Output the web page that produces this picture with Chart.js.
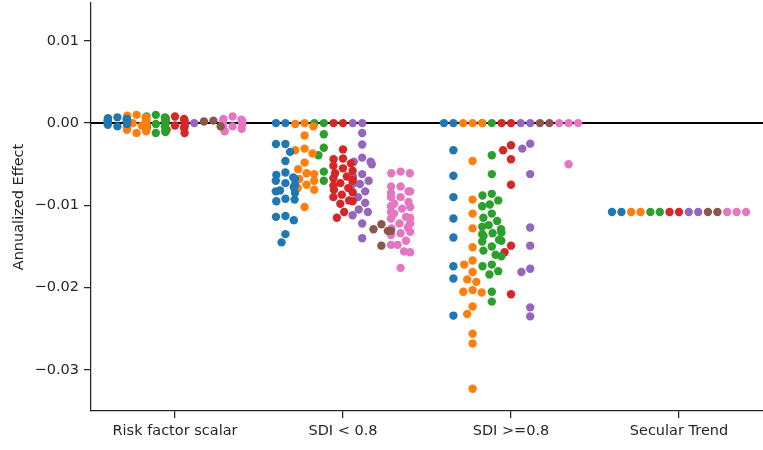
<!DOCTYPE html>
<html>
<head>
<meta charset="utf-8">
<script src="https://cdn.jsdelivr.net/npm/chart.js@4"></script>
<style>
body{margin:0;background:#fff;}
#wrap{width:763px;height:450px;}
</style>
</head>
<body>
<div id="wrap"><canvas id="chart" width="763" height="450"></canvas></div>
<script>
// ================= DATA =================
const categories = ["Risk factor scalar","SDI < 0.8","SDI >=0.8","Secular Trend"];

const yTicks = [0.01, 0, -0.01, -0.02, -0.03];
const yTickLabels = ["0.01","0.00","\u22120.01","\u22120.02","\u22120.03"];

// one list per hue, each holding the values for the 4 categories
const blue = [
[0.0007,0.0006,0.0005,0.00045,0.0004,0.0003,0.00025,0.0002,0.0001,0.00005,0,-0.0001,-0.0002,-0.0004],
[0,0,-0.00255,-0.00255,-0.0035,-0.0046,-0.006,-0.0063,-0.0066,-0.0068,-0.007,-0.0073,-0.0075,-0.0078,-0.0082,-0.0083,-0.0085,-0.0092,-0.0093,-0.0095,-0.0113,-0.0114,-0.0118,-0.0135,-0.0145],
[0,0,-0.0033,-0.0064,-0.009,-0.0116,-0.0139,-0.0174,-0.0189,-0.0234],
[-0.0108,-0.0108]
];
const orange = [
[0.001,0.0009,0.0007,0.0006,0.0005,0.0004,0.0003,0.0002,0.0001,0,-0.0001,-0.0002,-0.0003,-0.0005,-0.0006,-0.0008,-0.001,-0.0012],
[0,-0.0001,-0.0004,-0.0015,-0.0031,-0.0033,-0.0037,-0.0048,-0.0056,-0.0061,-0.0062,-0.0068,-0.0068,-0.007,-0.0075,-0.0077,-0.0079,-0.0081,-0.0102],
[0,0,0,-0.0046,-0.0093,-0.011,-0.0128,-0.0151,-0.0167,-0.0172,-0.0181,-0.019,-0.0193,-0.0203,-0.0205,-0.0206,-0.0223,-0.0232,-0.0256,-0.0268,-0.0323],
[-0.0108,-0.0108]
];
const green = [
[0.001,0.0008,0.0007,0.0005,0.0004,0.0003,0.0002,0.0001,0,-0.0001,-0.0002,-0.0004,-0.0005,-0.0007,-0.0009,-0.0011,-0.0012],
[0,0,-0.00135,-0.003,-0.0039,-0.0059,-0.007],
[0,0,-0.0039,-0.0062,-0.0086,-0.0088,-0.0094,-0.0099,-0.0101,-0.011,-0.0115,-0.0119,-0.0124,-0.0126,-0.0129,-0.0133,-0.0134,-0.0135,-0.0137,-0.0142,-0.0143,-0.0144,-0.015,-0.0155,-0.016,-0.0162,-0.0172,-0.0174,-0.018,-0.0184,-0.0205,-0.0217],
[-0.0108,-0.0108]
];
const red = [
[0.0008,0.0006,0.0005,0.0003,0.0002,0.0001,0,-0.0001,-0.0003,-0.0004,-0.0006,-0.0008,-0.0012],
[0,0,-0.0032,-0.0043,-0.0044,-0.0049,-0.0052,-0.0055,-0.0058,-0.0061,-0.0065,-0.0067,-0.0069,-0.007,-0.0073,-0.0076,-0.0079,-0.0081,-0.0084,-0.0087,-0.009,-0.0094,-0.0095,-0.0098,-0.0108,-0.0115],
[0,0,-0.0027,-0.0033,-0.0044,-0.0075,-0.0149,-0.0157,-0.0208],
[-0.0108,-0.0108]
];
const purple = [
[0,-0.0002],
[0,0,-0.0012,-0.0026,-0.0042,-0.0047,-0.0047,-0.005,-0.0062,-0.0065,-0.007,-0.0074,-0.0074,-0.0083,-0.009,-0.0097,-0.0105,-0.0108,-0.0112,-0.0122,-0.014],
[0,0,-0.0025,-0.0031,-0.0062,-0.0127,-0.0149,-0.0177,-0.0181,-0.0224,-0.0235],
[-0.0108,-0.0108]
];
const brown = [
[0.0003,0.0002,-0.0004],
[-0.0123,-0.0129,-0.0131,-0.0131,-0.0149],
[0,0],
[-0.0108,-0.0108]
];
const pink = [
[0.0008,0.0005,0.0004,0.0003,0.0002,0.0001,0,-0.0002,-0.0004,-0.0005,-0.0007,-0.001],
[-0.0059,-0.0061,-0.0061,-0.0077,-0.0077,-0.0083,-0.0083,-0.0085,-0.009,-0.009,-0.0096,-0.0098,-0.0101,-0.0102,-0.0104,-0.0108,-0.011,-0.0114,-0.0115,-0.0116,-0.0122,-0.0122,-0.0127,-0.0128,-0.0132,-0.0134,-0.0136,-0.0143,-0.0148,-0.0148,-0.0156,-0.0157,-0.0176],
[0,0,0,-0.005],
[-0.0108,-0.0108,-0.0108]
];

const hues = [blue, orange, green, red, purple, brown, pink];
const hueColors = ["#1f77b4","#ff7f0e","#2ca02c","#d62728","#9467bd","#8c564b","#e377c2"];

const TEXT = "#262626";
const FONT = "DejaVu Sans";
const DOT_R = 4.2;     // drawn radius (px)
const SWARM_R = 4.5;   // radius used for swarm collision (px)
const SPREAD = 0.8;    // width shared by all hues in one category


// ================= SWARM LAYOUT (seaborn style) =================
function swarm(vals, yScale, halfWidth){
let pts = vals.map((v,i)=>({i:i, y:yScale.getPixelForValue(v), x:0}));
pts.sort((a,b)=>a.y-b.y);

let placed = [];
pts.forEach(p=>{
if(!placed.length){ placed.push(p); return; }

let nb = [];
for(let k=placed.length-1;k>=0;k--){
if(p.y - placed[k].y < 2*SWARM_R) nb.push(placed[k]);
else break;
}

let cands = [0];
let leftFirst = true;
nb.forEach(n=>{
let dy = p.y - n.y;
let dx = Math.sqrt(Math.max(4*SWARM_R*SWARM_R - dy*dy,0))*1.05;
if(leftFirst) cands.push(n.x-dx, n.x+dx);
else cands.push(n.x+dx, n.x-dx);
leftFirst = !leftFirst;
});

let order = cands.map((c,idx)=>({c:c,idx:idx}))
.sort((a,b)=>(Math.abs(a.c)-Math.abs(b.c)) || (a.idx-b.idx));

for(let o of order){
let ok = nb.every(n=>(n.x-o.c)**2 + (n.y-p.y)**2 >= 4*SWARM_R*SWARM_R - 1e-6);
if(ok){ p.x = o.c; break; }
}
placed.push(p);
});

// gutters
let out = new Array(vals.length);
placed.forEach(p=>{
out[p.i] = Math.max(-halfWidth, Math.min(halfWidth, p.x));
});
return out;
}


// ================= CHART =================
const zeroLine = {
id:"zeroLine",
beforeDatasetsDraw(chart){
let {ctx, chartArea, scales} = chart;
let py = scales.y.getPixelForValue(0);
ctx.save();
ctx.strokeStyle = "#000";
ctx.lineWidth = 2;
ctx.beginPath();
ctx.moveTo(chartArea.left, py);
ctx.lineTo(chartArea.right, py);
ctx.stroke();
ctx.restore();
}
};

const hueWidth = SPREAD / hues.length;

const datasets = hues.map((h,hi)=>({
label:"hue"+hi,
data:[],
backgroundColor:hueColors[hi],
borderWidth:0,
pointRadius:DOT_R,
pointHoverRadius:DOT_R,
pointBorderWidth:0
}));

// first pass: points on the hue centre lines
hues.forEach((h,hi)=>{
let off = -SPREAD/2 + hueWidth*(hi+0.5);
h.forEach((vals,ci)=>{
vals.forEach(v=>datasets[hi].data.push({x:ci+off, y:v}));
});
});

const chart = new Chart(document.getElementById("chart"),{
type:"scatter",
data:{datasets:datasets},
options:{
responsive:false,
animation:false,
events:[],
layout:{autoPadding:false, padding:{top:3,right:0,left:0,bottom:0}},
plugins:{legend:{display:false}, tooltip:{enabled:false}},
scales:{
x:{
type:"linear",
min:-0.5,
max:3.5,
afterBuildTicks:s=>{ s.ticks = categories.map((c,i)=>({value:i})); },
afterFit:s=>{ s.height = 39; s.paddingLeft = 0; s.paddingRight = 0; },
ticks:{
autoSkip:false, maxRotation:0, padding:5,
color:TEXT, font:{family:FONT,size:14.5},
callback:(v,i)=>categories[i]
},
grid:{display:true, drawOnChartArea:false, drawTicks:true, tickLength:7, color:TEXT, lineWidth:1.25},
border:{display:true, color:TEXT, width:1.25}
},
y:{
min:-0.035,
max:0.0146,
afterBuildTicks:s=>{ s.ticks = yTicks.map(v=>({value:v})); },
afterFit:s=>{ s.width = 91; s.paddingTop = 0; s.paddingBottom = 0; },
ticks:{
padding:5,
color:TEXT, font:{family:FONT,size:14.5},
callback:(v,i)=>yTickLabels[i]
},
title:{display:true, text:"Annualized Effect", color:TEXT, font:{family:FONT,size:14.5}, padding:{top:11,bottom:0}},
grid:{display:true, drawOnChartArea:false, drawTicks:true, tickLength:7, color:TEXT, lineWidth:1.25},
border:{display:true, color:TEXT, width:1.25}
}
}
},
plugins:[zeroLine]
});


// second pass: spread each hue group as a swarm now that the scales exist
let xs = chart.scales.x, ys = chart.scales.y;
let pxPerUnit = xs.getPixelForValue(1) - xs.getPixelForValue(0);
let halfPx = hueWidth/2*pxPerUnit;

hues.forEach((h,hi)=>{
let off = -SPREAD/2 + hueWidth*(hi+0.5);
let pts = [];
h.forEach((vals,ci)=>{
let offs = swarm(vals, ys, halfPx);
vals.forEach((v,k)=>pts.push({x:ci+off+offs[k]/pxPerUnit, y:v}));
});
chart.data.datasets[hi].data = pts;
});
chart.update("none");
</script>
</body>
</html>
